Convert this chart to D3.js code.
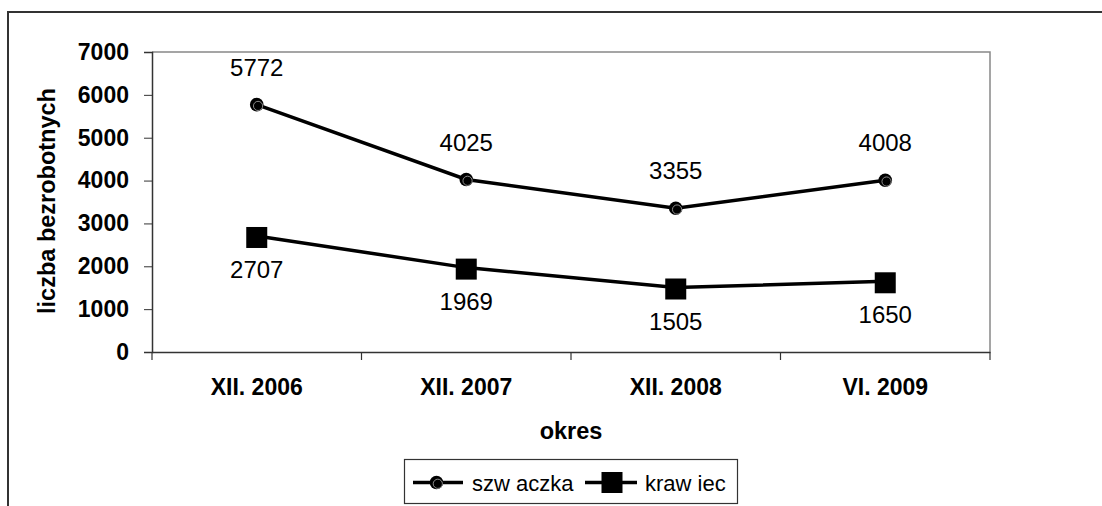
<!DOCTYPE html>
<html>
<head>
<meta charset="utf-8">
<script src="https://cdn.jsdelivr.net/npm/d3@7"></script>
<style>
    body { margin: 0; background: #fff; }
    svg text { font-family: "Liberation Sans", Arial, sans-serif; fill: #000; }
</style>
</head>
<body>
<svg id="chart" width="1102" height="506"></svg>
<script>
// chart data
var categories = ["XII. 2006", "XII. 2007", "XII. 2008", "VI. 2009"];
var szwaczka = [5772, 4025, 3355, 4008];
var krawiec = [2707, 1969, 1505, 1650];
var yTicks = [0, 1000, 2000, 3000, 4000, 5000, 6000, 7000];

var svg = d3.select("#chart");

// plot area (window.top is taken, so plot_* names)
var plot_left = 152, plot_top = 52, plot_right = 990, plot_bottom = 352;

var x = d3.scaleBand()
    .domain(categories)
    .range([plot_left, plot_right]);

var y = d3.scaleLinear()
    .domain([0, 7000])
    .range([plot_bottom, plot_top]);

var cx = function(d, i) { return x(categories[i]) + x.bandwidth() / 2; };

// outer frame (only top and left sides show)
svg.append("path")
    .attr("d", "M8,506 L8,12 L1102,12")
    .attr("fill", "none")
    .attr("stroke", "#333")
    .attr("stroke-width", 2);

// plot border top / right
svg.append("path")
    .attr("d", "M" + plot_left + "," + plot_top + " L" + plot_right + "," + plot_top +
               " L" + plot_right + "," + plot_bottom)
    .attr("fill", "none")
    .attr("stroke", "#888")
    .attr("stroke-width", 1.5);

// y axis
var yAxis = svg.append("g")
    .attr("transform", "translate(" + plot_left + ",0)")
    .call(d3.axisLeft(y).tickValues(yTicks).tickFormat(d3.format("d"))
        .tickSize(8).tickPadding(15));
yAxis.select(".domain").attr("stroke", "#333").attr("stroke-width", 1.5);
yAxis.selectAll(".tick line").attr("stroke", "#333");
yAxis.selectAll("text")
    .attr("font-size", "23px")
    .attr("font-weight", "bold")
    .attr("font-family", "Liberation Sans, Arial, sans-serif");

// x axis with ticks between categories
var xAxis = svg.append("g")
    .attr("transform", "translate(0," + plot_bottom + ")")
    .call(d3.axisBottom(x).tickSize(0).tickPadding(27));
xAxis.select(".domain").attr("stroke", "#333").attr("stroke-width", 1.5);
xAxis.selectAll("text")
    .attr("font-size", "23px")
    .attr("font-weight", "bold")
    .attr("font-family", "Liberation Sans, Arial, sans-serif");

var bounds = categories.map(function(c) { return x(c); }).concat([plot_right]);
xAxis.selectAll(".sep")
    .data(bounds)
    .enter()
    .append("line")
    .attr("x1", function(d) { return d; })
    .attr("x2", function(d) { return d; })
    .attr("y1", 0)
    .attr("y2", 8)
    .attr("stroke", "#333")
    .attr("stroke-width", 1.2);

// axis titles
svg.append("text")
    .attr("transform", "translate(55,201) rotate(-90)")
    .attr("text-anchor", "middle")
    .attr("font-size", "23.5px")
    .attr("font-weight", "bold")
    .text("liczba bezrobotnych");

svg.append("text")
    .attr("x", (plot_left + plot_right) / 2)
    .attr("y", 439)
    .attr("text-anchor", "middle")
    .attr("font-size", "23.5px")
    .attr("font-weight", "bold")
    .text("okres");

// lines
var line = d3.line()
    .x(function(d, i) { return cx(d, i); })
    .y(function(d) { return y(d); });

[szwaczka, krawiec].forEach(function(series) {
    svg.append("path")
        .datum(series)
        .attr("d", line)
        .attr("fill", "none")
        .attr("stroke", "#000")
        .attr("stroke-width", 3.5);
});

function drawCircle(g, px, py) {
    g.append("circle")
        .attr("cx", px).attr("cy", py).attr("r", 6.8)
        .attr("fill", "#000");
    g.append("circle")
        .attr("cx", px + 1.3).attr("cy", py + 1.3).attr("r", 4.6)
        .attr("fill", "#000")
        .attr("stroke", "#9a9a9a")
        .attr("stroke-width", 0.9);
}

function drawSquare(g, px, py) {
    g.append("rect")
        .attr("x", px - 10.5).attr("y", py - 10.5)
        .attr("width", 21).attr("height", 21)
        .attr("fill", "#000");
}

var marks = svg.append("g");
szwaczka.forEach(function(v, i) { drawCircle(marks, cx(v, i), y(v)); });
krawiec.forEach(function(v, i) { drawSquare(marks, cx(v, i), y(v) + 1.5); });

// data labels
svg.selectAll(".lab1")
    .data(szwaczka)
    .enter()
    .append("text")
    .attr("x", cx)
    .attr("y", function(d) { return y(d) - 29; })
    .attr("text-anchor", "middle")
    .attr("font-size", "24px")
    .text(function(d) { return d; });

svg.selectAll(".lab2")
    .data(krawiec)
    .enter()
    .append("text")
    .attr("x", cx)
    .attr("y", function(d) { return y(d) + 42; })
    .attr("text-anchor", "middle")
    .attr("font-size", "24px")
    .text(function(d) { return d; });

// legend
var legend = svg.append("g");
legend.append("rect")
    .attr("x", 404.5).attr("y", 459.5)
    .attr("width", 333).attr("height", 44)
    .attr("fill", "#fff")
    .attr("stroke", "#333")
    .attr("stroke-width", 1.2);

var ly = 482.5;
legend.append("line")
    .attr("x1", 413).attr("x2", 463).attr("y1", ly).attr("y2", ly)
    .attr("stroke", "#000").attr("stroke-width", 3.5);
drawCircle(legend, 436.5, ly);
legend.append("text")
    .attr("x", 472).attr("y", ly + 8)
    .attr("font-size", "22px")
    .text("szw aczka");

legend.append("line")
    .attr("x1", 585).attr("x2", 637).attr("y1", ly).attr("y2", ly)
    .attr("stroke", "#000").attr("stroke-width", 3.5);
drawSquare(legend, 612, ly);
legend.append("text")
    .attr("x", 645).attr("y", ly + 8)
    .attr("font-size", "22px")
    .text("kraw iec");
</script>
</body>
</html>
